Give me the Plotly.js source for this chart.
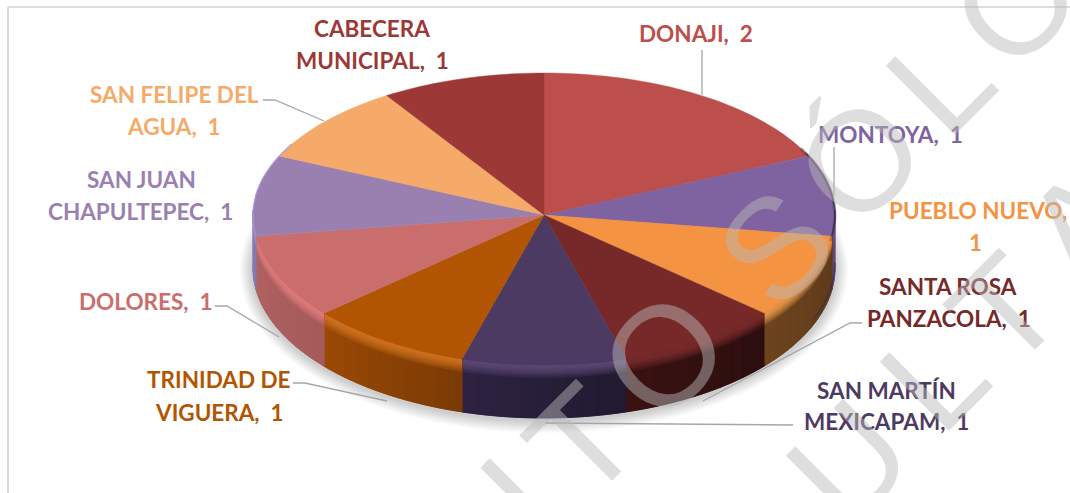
<!DOCTYPE html>
<html>
<head>
<meta charset="utf-8">
<script src="https://cdn.plot.ly/plotly-3.0.1.min.js"></script>
<style>html,body{margin:0;padding:0;background:#fff;overflow:hidden}#chart{width:1070px;height:493px}</style>
</head>
<body>
<div id="chart"></div>
<script>
// ---- data (clockwise from 12 o'clock) ----
const categories = ['DONAJI','MONTOYA','PUEBLO NUEVO','SANTA ROSA PANZACOLA','SAN MARTÍN MEXICAPAM','TRINIDAD DE VIGUERA','DOLORES','SAN JUAN CHAPULTEPEC','SAN FELIPE DEL AGUA','CABECERA MUNICIPAL'];
const values = [2,1,1,1,1,1,1,1,1,1];
const colors = ['#bc4e4b','#7f62a0','#f49342','#772828','#4d3a62','#b25503','#ca6e6d','#9a80b0','#f5aa6a','#9c3836'];
const rimLight = ['#cc5f5c','#8f74b2','#f49a4c','#7c2e2c','#5f4b78','#d47522','#e67e7c','#a892c0','#f9ba80','#ab4845'];
const wallLeft = ['#8a3936','#5f4878','#6c441e','#3a1212','#2e2342','#9c4a05','#b06262','#8478b0','#b8804e','#742a28'];
const wallRight = ['#8a3936','#5f4878','#5f3a1a','#2c0e0e','#201a30','#7a3a05','#a65a5a','#8478b0','#b8804e','#742a28'];
// label lines, one row per text line
const labelRows = [
  ['DONAJI,\u00a0 2', 0, 696, 33],
  ['MONTOYA,\u00a0 1', 1, 890, 134],
  ['PUEBLO NUEVO,', 2, 978, 210],
  ['1', 2, 975, 242],
  ['SANTA ROSA', 3, 948, 286],
  ['PANZACOLA,\u00a0 1', 3, 949, 318],
  ['SAN MARTÍN', 4, 886, 390],
  ['MEXICAPAM,\u00a0 1', 4, 886, 421],
  ['TRINIDAD DE', 5, 219, 379],
  ['VIGUERA,\u00a0 1', 5, 219, 412],
  ['DOLORES,\u00a0 1', 6, 146, 301],
  ['SAN JUAN', 7, 141, 179],
  ['CHAPULTEPEC,\u00a0 1', 7, 140, 211],
  ['SAN FELIPE DEL', 8, 174, 94],
  ['AGUA,\u00a0 1', 8, 174, 126],
  ['CABECERA', 9, 372, 28],
  ['MUNICIPAL,\u00a0 1', 9, 372, 60]
];
const leaders = [
  [[702,702],[50,95]],
  [[834,834],[147,196]],
  [[862,850,703],[323,323,401]],
  [[793,545],[425,423]],
  [[293,305,387],[383,383,401]],
  [[215,227,279],[306,306,337]],
  [[263,275,324],[100,100,121]]
];
// watermark letters: [char, centre x, centre y]
const watermark = [
  ['I',519,498],['T',581,441],['O',663,355],['S',775,247],['Ó',859,160],['L',939,80],['O',1015,3],
  ['S',752,548],['U',848,461],['L',933,376],['T',1004,310],['A',1082,225]
];

// ---- pie geometry ----
const cx = 544, cy = 215, rx = 291, ryBack = 142, ryFront = 150, depth = 53;
const total = values.reduce((a,b)=>a+b,0);
const rad = d => d*Math.PI/180;
const rimX = a => cx + rx*Math.sin(rad(a));
const rimY = a => { const c = Math.cos(rad(a)); return cy - (c>0?ryBack:ryFront)*c; };
const hex = h => [1,3,5].map(i=>parseInt(h.substr(i,2),16));
const mix = (a,b,t) => { const A=hex(a),B=hex(b); return 'rgb('+A.map((v,i)=>Math.round(v+(B[i]-v)*t)).join(',')+')'; };
const alpha = (h,o) => { const A=hex(h); return 'rgba('+A.join(',')+','+o+')'; };
const traces = [];
const poly = (x,y,color,w) => {
  const X=x.concat([x[0]]), Y=y.concat([y[0]]);   // close the outline so the stroke covers every side
  traces.push({type:'scatter',mode:'lines',x:X,y:Y,fill:'toself',fillcolor:color,line:{color:w?color:'rgba(0,0,0,0)',width:w||0,simplify:false},hoverinfo:'skip',showlegend:false});
};
const band = (a0,a1,d0,d1,color,w) => {
  const xs=[],ys=[],n=Math.max(2,Math.ceil((a1-a0)/2));
  for(let q=0;q<=n;q++){const a=a0+(a1-a0)*q/n; xs.push(rimX(a)); ys.push(rimY(a)+d0);}
  for(let q=n;q>=0;q--){const a=a0+(a1-a0)*q/n; xs.push(rimX(a)); ys.push(rimY(a)+d1);}
  poly(xs,ys,color,w);
};

// soft shadow
for (let k=13;k>=1;k--) {
  const xs=[],ys=[];
  for (let a=0;a<=360;a+=3){ xs.push(cx+(rx+k)*Math.sin(rad(a))); ys.push(cy+depth+2-(ryFront+k)*Math.cos(rad(a))); }
  poly(xs,ys,'rgba(80,80,80,0.022)',0);
}

const starts=[]; let acc=0; values.forEach(v=>{starts.push(acc/total*360); acc+=v;});
// walls: a solid base, fine vertical columns for the sideways shading, then nested translucent bands for the bevel
values.forEach((v,i)=>{
  const a0=Math.max(starts[i],88), a1=Math.min(starts[i]+v/total*360,272);
  if(a1<=a0) return;
  band(a0,a1,0,depth,mix(wallLeft[i],wallRight[i],0.5),0.8);
  const nA=Math.max(1,Math.round((a1-a0)/3));
  for(let s=0;s<nA;s++){
    const b0=a0+(a1-a0)*s/nA, b1=a0+(a1-a0)*(s+1)/nA;
    band(b0,b1,0,depth,mix(wallLeft[i],wallRight[i],1-(s+0.5)/nA),0.6);
  }
  [0.24,0.2,0.165,0.135,0.11,0.09,0.07,0.05,0.03].forEach(f=>band(a0,a1,0,f*depth,alpha(rimLight[i],0.24),0));
});
// top faces
values.forEach((v,i)=>{
  const a0=starts[i], a1=a0+v/total*360;
  const xs=[cx], ys=[cy];
  for(let a=a0;a<a1;a+=1.5){xs.push(rimX(a));ys.push(rimY(a));}
  xs.push(rimX(a1));ys.push(rimY(a1));
  poly(xs,ys,colors[i],0.4);
});
// dark soft edge at the right, pale edge at the left
const edge = (from,to,color,width,drop) => {
  const xs=[],ys=[]; for(let a=from;a<=to;a+=2){xs.push(rimX(a));ys.push(rimY(a)+(drop||0));}
  traces.push({type:'scatter',mode:'lines',x:xs,y:ys,line:{color,width},hoverinfo:'skip',showlegend:false});
};
edge(62,100,'rgba(35,25,50,0.3)',3);
edge(64,98,'rgba(35,25,50,0.55)',1.5);
edge(90,112,'rgba(50,40,90,0.6)',1.5,depth*0.9);
edge(262,300,'rgba(170,150,215,0.7)',1.5);
// leader lines
leaders.forEach(l=>traces.push({type:'scatter',mode:'lines',x:l[0],y:l[1],line:{color:'#a6a6a6',width:1.3},hoverinfo:'skip',showlegend:false}));

const annotations = [];
labelRows.forEach(r=>annotations.push({xref:'x',yref:'y',x:r[2],y:r[3],text:'<b>'+r[0]+'</b>',showarrow:false,xanchor:'center',yanchor:'middle',font:{family:'Lato',size:22.5,color:colors[r[1]]}}));
watermark.forEach(w=>annotations.push({xref:'paper',yref:'paper',x:w[1]/1070,y:1-w[2]/493,text:w[0],showarrow:false,xanchor:'center',yanchor:'middle',textangle:-45,font:{family:'Liberation Sans',size:142,color:'rgba(185,185,185,0.48)'}}));

const layout = {
  width:1070,height:493,margin:{l:0,r:0,t:0,b:0},paper_bgcolor:'#fff',plot_bgcolor:'#fff',showlegend:false,
  xaxis:{range:[0,1070],visible:false,fixedrange:true},
  yaxis:{range:[493,0],visible:false,fixedrange:true},
  annotations,
  shapes:[
    {type:'line',xref:'paper',yref:'paper',x0:8/1070,x1:1,y0:1-7/493,y1:1-7/493,line:{color:'#dcdcdc',width:2}},
    {type:'line',xref:'paper',yref:'paper',x0:8/1070,x1:8/1070,y0:1-7/493,y1:0,line:{color:'#dcdcdc',width:2}}
  ]
};
Plotly.newPlot('chart',traces,layout,{staticPlot:true,displayModeBar:false});
</script>
</body>
</html>
